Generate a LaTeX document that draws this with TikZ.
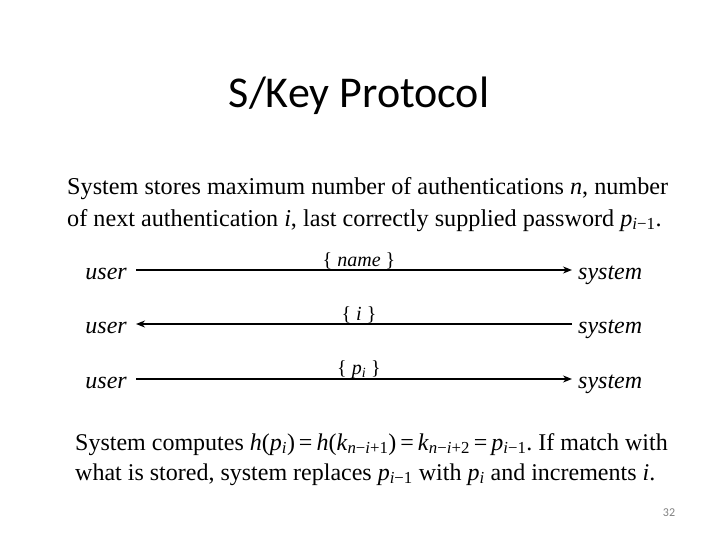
\documentclass[tikz,border=0pt]{standalone}
\usepackage{fontspec}
\setmainfont{Liberation Serif}
\newfontfamily\titlefont{Carlito}
\usetikzlibrary{arrows.meta}
\newcommand\sbs[1]{\textsubscript{#1}}
\begin{document}
\begin{tikzpicture}[x=1pt,y=-1pt,
  actor/.style={font=\fontsize{24}{28}\selectfont\itshape, inner sep=0pt},
  msg/.style={draw, line width=2pt, -{Stealth[length=9pt,width=7pt]}},
  lbl/.style={font=\fontsize{20}{22}\selectfont, inner sep=0pt, anchor=base}]
\useasboundingbox (0,0) rectangle (720,540);
\node[font=\titlefont\fontsize{44}{52}\selectfont] (title) at (359,96) {S/Key Protocol};
\node[anchor=base west, align=left, inner sep=0pt, font=\fontsize{24.2}{32}\selectfont] (intro) at (67,226)
 {\makebox[601pt][s]{System stores maximum number of authentications \textit{n}, number}\\
  of next authentication \textit{i}, last correctly supplied password \textit{p}\sbs{\textit{i}−1}.};
% rows
\node[actor, anchor=base east] (u1) at (127,279) {user};
\node[actor, anchor=base west] (s1) at (578,279) {system};
\node[actor, anchor=base east] (u2) at (127,333) {user};
\node[actor, anchor=base west] (s2) at (578,333) {system};
\node[actor, anchor=base east] (u3) at (127,388) {user};
\node[actor, anchor=base west] (s3) at (578,388) {system};
\coordinate (a1) at (136,270); \coordinate (b1) at (572,270);
\coordinate (a2) at (136,324); \coordinate (b2) at (572,324);
\coordinate (a3) at (136,379); \coordinate (b3) at (572,379);
\draw[msg] (a1) -- (b1);
\draw[msg] (b2) -- (a2);
\draw[msg] (a3) -- (b3);
\node[lbl] (l1) at (359,266) {\{ \textit{name} \}};
\node[lbl] (l2) at (359,320) {\{ \textit{i} \}};
\node[lbl] (l3) at (359,374) {\{ \textit{p}\sbs{\textit{i}} \}};
\node[anchor=base west, align=left, inner sep=0pt, font=\fontsize{24}{30}\selectfont\frenchspacing] (outro) at (75,480)
 {System computes \textit{h}(\textit{p}\sbs{\textit{i}})\,=\,\textit{h}(\textit{k}\sbs{\textit{n}−\textit{i}+1})\,=\,\textit{k}\sbs{\textit{n}−\textit{i}+2}\,=\,\textit{p}\sbs{\textit{i}−1}. If match with\\
  what is stored, system replaces \textit{p}\sbs{\textit{i}−1} with \textit{p}\sbs{\textit{i}} and increments \textit{i}.};
\node[font=\titlefont\fontsize{12}{14}\selectfont, text=gray] (pg) at (669,513) {32};
\end{tikzpicture}
\end{document}
